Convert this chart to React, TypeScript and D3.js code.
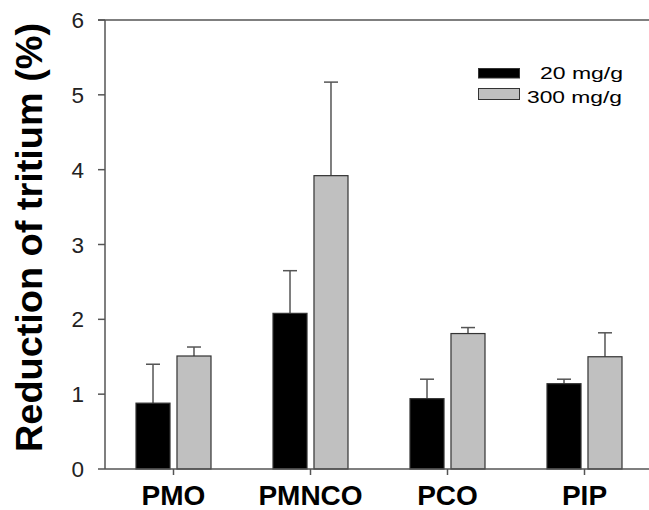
import React from "react";
import * as d3 from "d3";

const categories = ["PMO", "PMNCO", "PCO", "PIP"];
const seriesNames = ["20 mg/g", "300 mg/g"];
const means20 = [0.88, 2.08, 0.94, 1.14];
const errors20 = [0.52, 0.57, 0.26, 0.06];
const means300 = [1.51, 3.92, 1.81, 1.5];
const errors300 = [0.12, 1.25, 0.08, 0.32];
const yTicks = [0, 1, 2, 3, 4, 5, 6];
const seriesColors = ["#000000", "#c0c0c0"];

const W = 649;
const H = 510;
const left = 105;
const top = 20;
const bottom = 469;

export default function App() {
  const x0 = d3.scaleBand<string>().domain(categories).range([left, 653]).padding(0);
  const x1 = d3.scaleBand<string>().domain(seriesNames).range([-37.5, 37.5]).paddingInner(0.17);
  const y = d3.scaleLinear().domain([0, 6]).range([bottom, top]);
  const means = [means20, means300];
  const errs = [errors20, errors300];
  const axisColor = "#555";
  const font = "Arial, 'Liberation Sans', Helvetica, sans-serif";

  return (
    <svg width={W} height={H} style={{ position: "absolute", left: 0, top: 0, background: "#fff" }} fontFamily={font}>
      {/* bars */}
      {categories.map((c, i) => {
        const cx = x0(c)! + x0.bandwidth() / 2;
        return (
          <g key={c}>
            {seriesNames.map((s, k) => {
              const bx = cx + x1(s)!;
              const bw = x1.bandwidth();
              const v = means[k][i];
              const e = errs[k][i];
              const mx = bx + bw / 2;
              return (
                <g key={s}>
                  <line x1={mx} x2={mx} y1={y(v)} y2={y(v + e)} stroke={axisColor} strokeWidth={1.5} />
                  <line x1={mx - 7} x2={mx + 7} y1={y(v + e)} y2={y(v + e)} stroke={axisColor} strokeWidth={1.5} />
                  <rect x={bx} y={y(v)} width={bw} height={y(0) - y(v)} fill={seriesColors[k]} stroke="#333" strokeWidth={1.2} />
                </g>
              );
            })}
          </g>
        );
      })}
      {/* frame */}
      <line x1={98} x2={W} y1={top} y2={top} stroke={axisColor} strokeWidth={1.5} />
      <line x1={left} x2={left} y1={top} y2={bottom} stroke={axisColor} strokeWidth={1.5} />
      <line x1={left} x2={W} y1={bottom} y2={bottom} stroke={axisColor} strokeWidth={1.5} />
      {/* y ticks */}
      {yTicks.map((t) => (
        <g key={t}>
          <line x1={98} x2={left} y1={y(t)} y2={y(t)} stroke={axisColor} strokeWidth={1.5} />
          <text x={84} y={y(t)} dy="0.36em" textAnchor="end" fontSize={22.5} fill="#222">
            {t}
          </text>
        </g>
      ))}
      {/* x ticks */}
      {categories.map((c) => {
        const cx = x0(c)! + x0.bandwidth() / 2;
        return (
          <g key={c}>
            <line x1={cx} x2={cx} y1={bottom} y2={bottom + 6} stroke={axisColor} strokeWidth={1.5} />
            <text x={cx} y={505} textAnchor="middle" fontSize={28} fontWeight="bold" fill="#000">
              {c}
            </text>
          </g>
        );
      })}
      {/* y title */}
      <text
        transform={`translate(42,237.5) rotate(-90)`}
        textAnchor="middle"
        fontSize={36}
        fontWeight="bold"
        fill="#000"
        textLength={429}
        lengthAdjust="spacingAndGlyphs"
      >
        Reduction of tritium (%)
      </text>
      {/* legend */}
      <rect x={478.5} y={68.5} width={41} height={9.5} fill={seriesColors[0]} stroke="#333" strokeWidth={1} />
      <rect x={478.5} y={88.5} width={41} height={11} fill={seriesColors[1]} stroke="#333" strokeWidth={1} />
      <text x={540} y={78.5} fontSize={16} fill="#000" textLength={83} lengthAdjust="spacingAndGlyphs">
        {seriesNames[0]}
      </text>
      <text x={527} y={103} fontSize={16} fill="#000" textLength={95} lengthAdjust="spacingAndGlyphs">
        {seriesNames[1]}
      </text>
    </svg>
  );
}
